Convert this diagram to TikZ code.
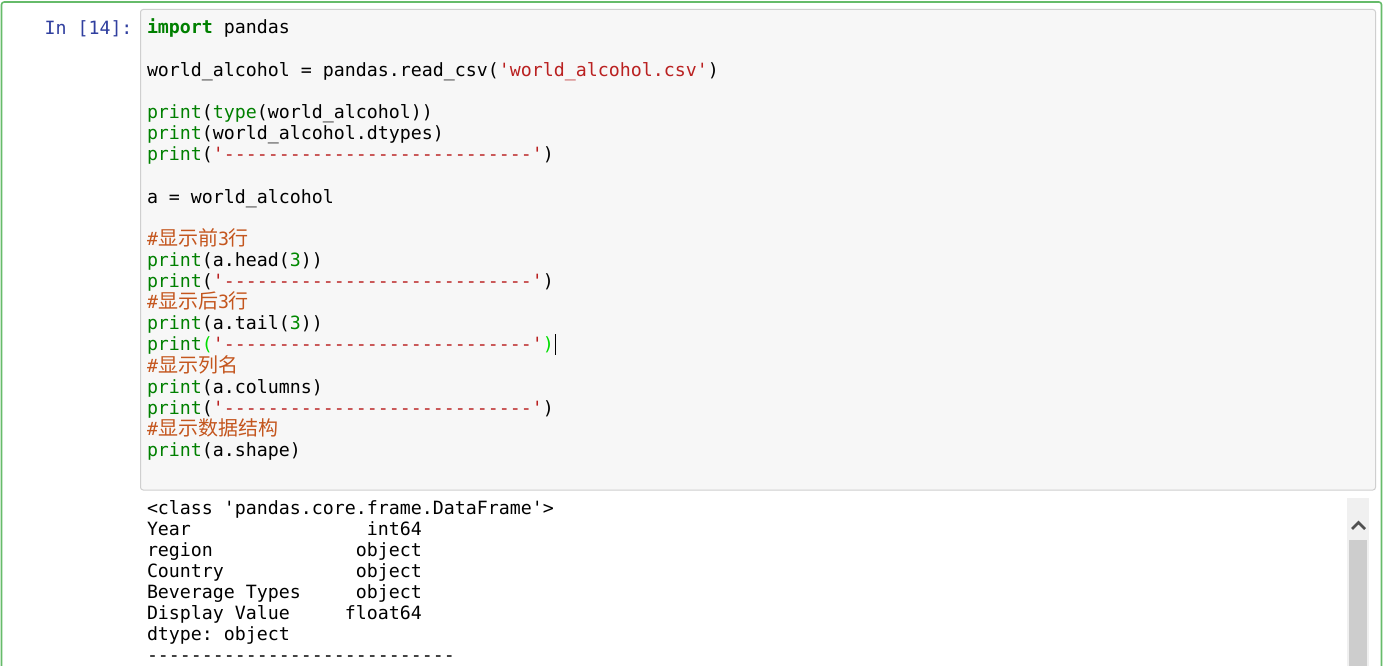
\documentclass[tikz,border=0pt]{standalone}
\usepackage{fontspec}
\setmonofont{DejaVu Sans Mono}
\newfontfamily\cjk{Noto Sans CJK SC}
\definecolor{cellgreen}{RGB}{102,187,106}
\definecolor{inbg}{RGB}{247,247,247}
\definecolor{inborder}{RGB}{207,207,207}
\definecolor{prompt}{RGB}{48,63,159}
\definecolor{kwgreen}{RGB}{0,128,0}
\definecolor{strred}{RGB}{186,33,33}
\definecolor{cmbrown}{RGB}{196,86,30}
\definecolor{numgreen}{RGB}{0,136,0}
\definecolor{matchgreen}{RGB}{0,221,0}
\definecolor{sbtrack}{RGB}{240,240,240}
\definecolor{sbthumb}{RGB}{205,205,205}
\definecolor{sbarrow}{RGB}{80,80,80}
\newcommand\ckw[1]{\textcolor{kwgreen}{#1}}
\newcommand\cstr[1]{\textcolor{strred}{#1}}
\newcommand\cnum[1]{\textcolor{numgreen}{#1}}
\newcommand\cmb[1]{\textcolor{matchgreen}{#1}}
\newcommand\zh[1]{{\fontsize{15pt}{16pt}\cjk #1}}
\newcommand\ccm[1]{\textcolor{cmbrown}{#1}}
\newlength\cwd
\setlength\cwd{8.248pt}
\newcommand\blk[1]{\hspace*{#1\cwd}}
\newcommand\dashrow{----------------------------}
\begin{document}
\begin{tikzpicture}[x=0.75pt,y=-0.75pt,
  codeline/.style={anchor=base west, inner sep=0pt, outer sep=0pt,
    font=\ttfamily\fontsize{13.7pt}{16pt}\selectfont, text=black},
  promptline/.style={codeline, anchor=base east, text=prompt}]
\useasboundingbox (0,0) rectangle (1394,666);
\fill[white] (0,0) rectangle (1394,666);
\clip (0,0) rectangle (1394,666);
% cell border
\draw[cellgreen, line width=1.2pt, rounded corners=2] (1.5,2) rectangle (1381.5,720);
% input area
\draw[fill=inbg, draw=inborder, line width=0.75pt, rounded corners=2] (140.5,9.5) rectangle (1375.5,490);
% prompt
\node[promptline] (prompt) at (132.5,35) {In [14]:};
% code
\node[codeline] (l1) at (147,34) {\ckw{\textbf{import}} pandas};
\node[codeline] (l3) at (147,76.26) {world\_alcohol = pandas.read\_csv(\cstr{'world\_alcohol.csv'})};
\node[codeline] (l5) at (147,118.52) {\ckw{print}(\ckw{type}(world\_alcohol))};
\node[codeline] (l6) at (147,139.65) {\ckw{print}(world\_alcohol.dtypes)};
\node[codeline] (l7) at (147,160.78) {\ckw{print}(\cstr{'\dashrow'})};
\node[codeline] (l9) at (147,203.04) {a = world\_alcohol};
\node[codeline] (l11) at (147,245.3) {\ccm{\#\zh{显示前}3\zh{行}}};
\node[codeline] (l12) at (147,266.43) {\ckw{print}(a.head(\cnum{3}))};
\node[codeline] (l13) at (147,287.56) {\ckw{print}(\cstr{'\dashrow'})};
\node[codeline] (l14) at (147,308.69) {\ccm{\#\zh{显示后}3\zh{行}}};
\node[codeline] (l15) at (147,329.82) {\ckw{print}(a.tail(\cnum{3}))};
\node[codeline] (l16) at (147,350.95) {\ckw{print}\cmb{(}\cstr{'\dashrow'}\cmb{)}};
\node[codeline] (l17) at (147,372.08) {\ccm{\#\zh{显示列名}}};
\node[codeline] (l18) at (147,393.21) {\ckw{print}(a.columns)};
\node[codeline] (l19) at (147,414.34) {\ckw{print}(\cstr{'\dashrow'})};
\node[codeline] (l20) at (147,435.47) {\ccm{\#\zh{显示数据结构}}};
\node[codeline] (l21) at (147,456.6) {\ckw{print}(a.shape)};
% cursor
\coordinate (curtop) at (555.5,334);
\coordinate (curbot) at (555.5,354.5);
\draw[black, line width=0.9pt] (curtop) -- (curbot);
% output
\node[codeline] (o1) at (147,514) {<class 'pandas.core.frame.DataFrame'>};
\node[codeline] (o2) at (147,535.13) {Year\blk{16}int64};
\node[codeline] (o3) at (147,556.26) {region\blk{13}object};
\node[codeline] (o4) at (147,577.39) {Country\blk{12}object};
\node[codeline] (o5) at (147,598.52) {Beverage Types\blk{5}object};
\node[codeline] (o6) at (147,619.65) {Display Value\blk{5}float64};
\node[codeline] (o7) at (147,640.78) {dtype: object};
\node[codeline] (o8) at (147,661.91) {\dashrow};
% scrollbar
\fill[sbtrack] (1347,498) rectangle (1369,720);
\fill[sbthumb] (1349,540) rectangle (1367,720);
\draw[sbarrow, line width=1.9pt] (1352,529) -- (1358.5,522.5) -- (1365,529);
\end{tikzpicture}
\end{document}
